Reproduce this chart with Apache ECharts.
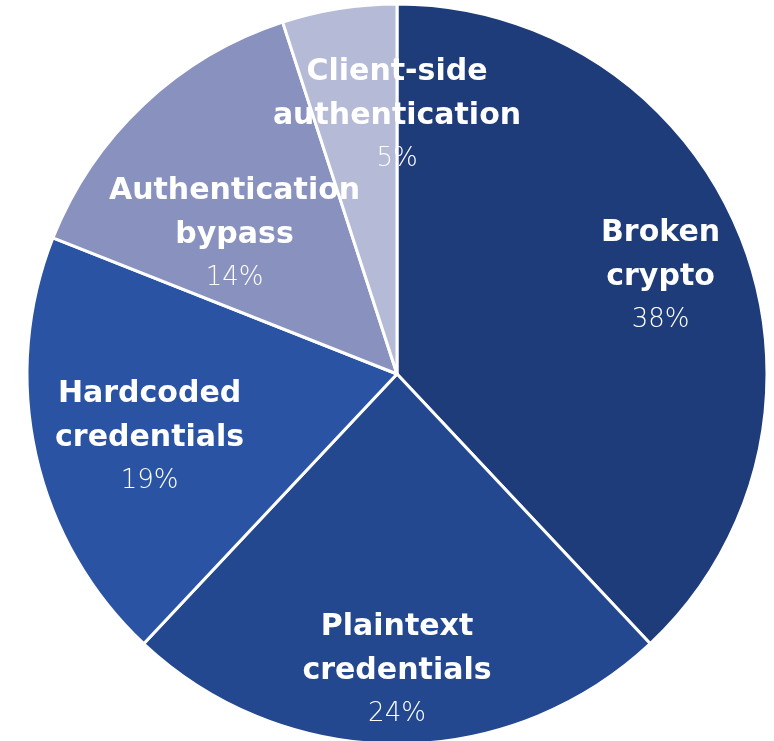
<!DOCTYPE html>
<html>
<head>
<meta charset="utf-8">
<script src="https://cdn.jsdelivr.net/npm/echarts@6/dist/echarts.min.js"></script>
<style>html,body{margin:0;padding:0;background:#fff;}#c{width:774px;height:741px;}</style>
</head>
<body>
<div id="c"></div>
<script>
const categories = ['Broken crypto', 'Plaintext credentials', 'Hardcoded credentials', 'Authentication bypass', 'Client-side authentication'];
const labelNames = ['Broken\ncrypto', 'Plaintext\ncredentials', 'Hardcoded\ncredentials', 'Authentication\nbypass', 'Client-side\nauthentication'];
const values = [38, 24, 19, 14, 5];
const colors = ['#1F3C7A', '#23488F', '#2A54A3', '#8991BF', '#B5BAD6'];
// label placement (style): fraction of radius and angular nudge in degrees
const labelRadius = [0.76, 0.80, 0.69, 0.58, 0.70];
const labelAngleShift = [1.2, 0, -1.7, -6, 9];

const CX = 397, CY = 374, R = 370;
const total = values.reduce((a, b) => a + b, 0);

const chart = echarts.init(document.getElementById('c'), null, {renderer: 'canvas'});
chart.setOption({
  animation: false,
  backgroundColor: '#ffffff',
  series: [{
    type: 'pie',
    center: [CX, CY],
    radius: [0, R],
    startAngle: 90,
    clockwise: true,
    itemStyle: {borderColor: '#ffffff', borderWidth: 3},
    label: {
      show: true,
      position: 'inside',
      align: 'center',
      formatter: function (p) {
        const lines = labelNames[p.dataIndex].split('\n').map(l => '{n|' + l + '}');
        return lines.join('\n') + '\n{p|' + p.value + '%}';
      },
      rich: {
        n: {fontFamily: 'DejaVu Sans', fontWeight: 'bold', fontSize: 30, color: '#ffffff', lineHeight: 44, align: 'center'},
        p: {fontFamily: 'DejaVu Sans', fontWeight: 200, fontSize: 26, color: '#ffffff', lineHeight: 42, align: 'center'}
      }
    },
    labelLine: {show: false},
    labelLayout: function (params) {
      const i = params.dataIndex;
      let cum = 0;
      for (let k = 0; k < i; k++) cum += values[k];
      const mid = (cum + values[i] / 2) / total * 360 + labelAngleShift[i];
      const a = mid * Math.PI / 180;
      const d = R * labelRadius[i];
      return {
        x: CX + d * Math.sin(a),
        y: CY - d * Math.cos(a),
        align: 'center',
        verticalAlign: 'middle'
      };
    },
    data: categories.map((c, i) => ({name: c, value: values[i], itemStyle: {color: colors[i]}}))
  }]
});
</script>
</body>
</html>
